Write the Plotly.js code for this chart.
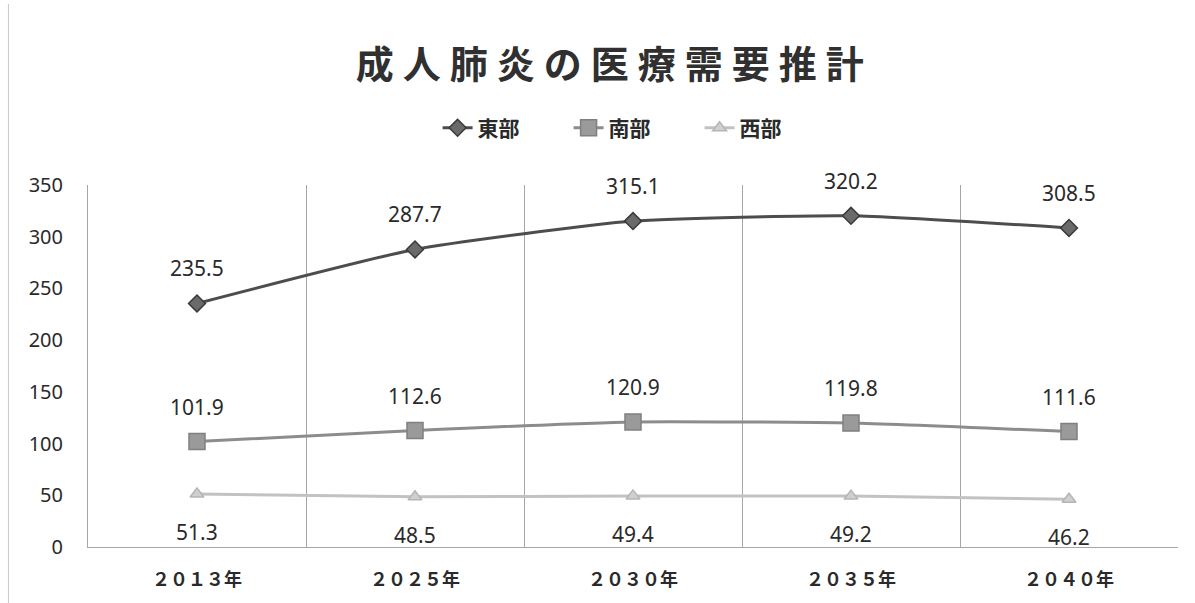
<!DOCTYPE html>
<html>
<head>
<meta charset="utf-8">
<script src="https://cdn.plot.ly/plotly-3.0.1.min.js"></script>
<style>
html,body{margin:0;padding:0;background:#fff;}
#chart{width:1195px;height:603px;}
.gtitle{letter-spacing:9px;}
</style>
</head>
<body>
<div id="chart"></div>
<script>
const categories = ['２０１３年','２０２５年','２０３０年','２０３５年','２０４０年'];
const seriesNames = ['東部','南部','西部'];
const east = [235.5, 287.7, 315.1, 320.2, 308.5];
const south = [101.9, 112.6, 120.9, 119.8, 111.6];
const west = [51.3, 48.5, 49.4, 49.2, 46.2];
const yTicks = [0, 50, 100, 150, 200, 250, 300, 350];

const lineColors = ['#4d4d4d', '#8c8c8c', '#c2c2c2'];
const markerFill = ['#6a6a6a', '#9a9a9a', '#cfcfcf'];
const markerLine = ['#3a3a3a', '#808080', '#b5b5b5'];
const symbols = ['diamond', 'square', 'triangle-up'];
const sizes = [13, 16, 12];
const allSeries = [east, south, west];
const shifts = [35, 35, -38];

const traces = allSeries.map((vals, i) => ({
  type: 'scatter',
  mode: 'lines+markers',
  name: seriesNames[i],
  x: categories,
  y: vals,
  line: {color: lineColors[i], width: 3, shape: 'spline', smoothing: 0.5},
  marker: {symbol: symbols[i], size: sizes[i], color: markerFill[i], line: {color: markerLine[i], width: 1.5}},
  hoverinfo: 'skip'
}));

const annotations = [];
allSeries.forEach((vals, i) => {
  vals.forEach((v, j) => {
    annotations.push({
      x: categories[j], y: v, xref: 'x', yref: 'y',
      text: v.toFixed(1), showarrow: false, yshift: shifts[i],
      font: {family: 'Noto Sans, DejaVu Sans, sans-serif', size: 21, color: '#2a2a2a'}
    });
  });
});

const layout = {
  width: 1195, height: 603,
  paper_bgcolor: '#ffffff', plot_bgcolor: '#ffffff',
  margin: {l: 88, r: 17, t: 185, b: 56},
  title: {
    text: '<b>成人肺炎の医療需要推計</b>',
    x: 0.514, xanchor: 'center', y: 0.893, yanchor: 'middle',
    font: {family: 'Noto Sans CJK JP, sans-serif', size: 38, color: '#303030'}
  },
  showlegend: true,
  legend: {
    orientation: 'h', x: 0.501, xanchor: 'center', y: 1.157, yanchor: 'middle',
    font: {family: 'Noto Sans CJK JP, sans-serif', size: 21, color: '#2a2a2a', weight: 'bold'},
    entrywidth: 86, entrywidthmode: 'pixels',
    traceorder: 'normal', bgcolor: 'rgba(0,0,0,0)'
  },
  xaxis: {
    type: 'category',
    range: [-0.5, 4.5],
    tickson: 'boundaries',
    ticks: '',
    showgrid: true, gridcolor: '#a6a6a6', gridwidth: 1,
    showline: true, linecolor: '#a6a6a6', linewidth: 1,
    zeroline: false,
    tickfont: {family: 'Noto Sans CJK JP, sans-serif', size: 18, color: '#2a2a2a', weight: 'bold'},
    ticklabelstandoff: 16,
    fixedrange: true
  },
  yaxis: {
    range: [0, 350],
    tickvals: yTicks,
    ticktext: yTicks.map(String),
    showgrid: false,
    showline: true, linecolor: '#a6a6a6', linewidth: 1,
    zeroline: false,
    ticks: '',
    tickfont: {family: 'Noto Sans, DejaVu Sans, sans-serif', size: 20, color: '#2a2a2a'},
    ticklabelstandoff: 20,
    fixedrange: true
  },
  annotations: annotations,
  shapes: [
    {type: 'line', xref: 'paper', yref: 'paper', x0: -0.073, x1: -0.073, y0: -0.16, y1: 1.5,
     line: {color: '#c8c8c8', width: 1}}
  ]
};

Plotly.newPlot('chart', traces, layout, {displayModeBar: false, staticPlot: true});
</script>
</body>
</html>
